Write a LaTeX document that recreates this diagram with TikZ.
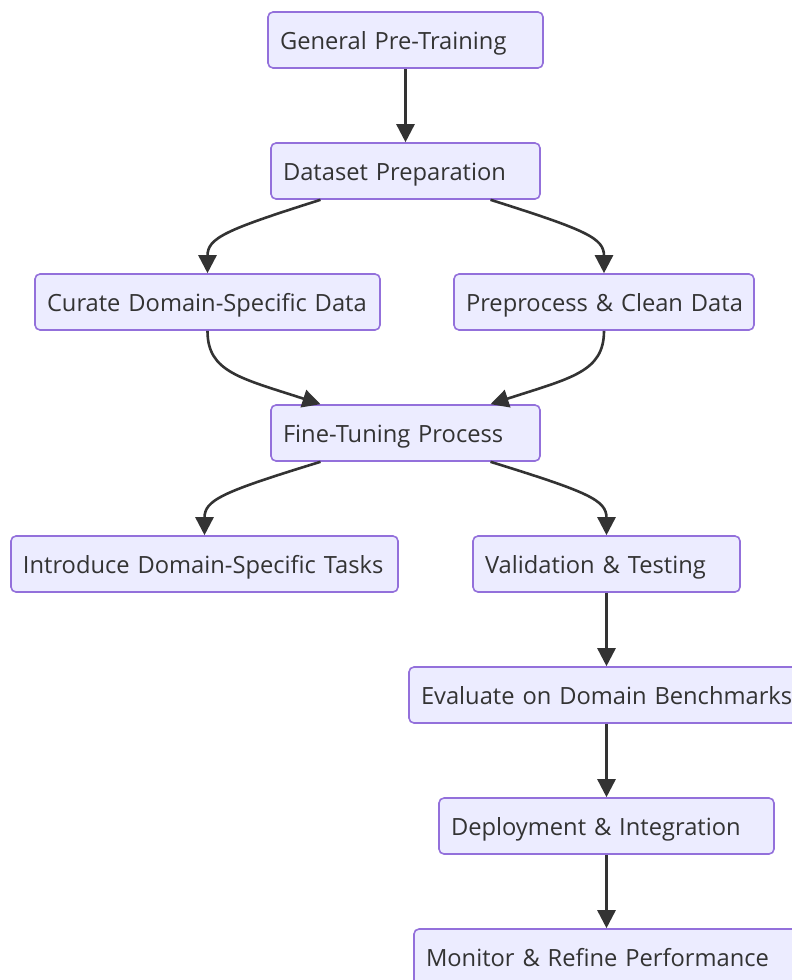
\documentclass[tikz,border=0pt]{standalone}
\usepackage{fontspec}
\setmainfont{Open Sans}
\usetikzlibrary{arrows.meta,calc}
\definecolor{boxfill}{HTML}{ECECFF}
\definecolor{boxline}{HTML}{9370DB}
\definecolor{ink}{HTML}{333333}
\tikzset{
  box/.style={draw=boxline, fill=boxfill, line width=1.6pt, rounded corners=5pt,
    minimum height=56pt, inner xsep=12pt, inner ysep=0pt, align=left,
    text height=24pt, text depth=6pt,
    text=ink, font=\fontsize{23.7}{28}\selectfont},
  conn/.style={draw=ink, line width=2.6pt, -{Triangle[length=18pt,width=18pt]}},
}
\begin{document}
\begin{tikzpicture}[x=1pt,y=-1pt]
\useasboundingbox (0,0) rectangle (792,980);
\clip (0,0) rectangle (792,980);
\node[box, text width=251pt] (gp) at (405.5,40) {\mbox{General Pre-Training}};
\node[box, text width=245pt] (dp) at (405.5,171) {\mbox{Dataset Preparation}};
\node[box, text width=321pt] (cd) at (207.5,302) {\mbox{Curate Domain-Specific Data}};
\node[box, text width=276pt] (pc) at (604,302) {\mbox{Preprocess \& Clean Data}};
\node[box, text width=245pt] (ft) at (405.5,433) {\mbox{Fine-Tuning Process}};
\node[box, text width=363pt] (it) at (204.5,564) {\mbox{Introduce Domain-Specific Tasks}};
\node[box, text width=243pt] (vt) at (606.5,564) {\mbox{Validation \& Testing}};
\node[box, text width=370pt] (eb) at (606,695) {\mbox{Evaluate on Domain Benchmarks}};
\node[box, text width=311pt] (di) at (606.5,826) {\mbox{Deployment \& Integration}};
\node[box, text width=360pt] (mr) at (606,957) {\mbox{Monitor \& Refine Performance}};

\draw[conn] (gp.south) -- (dp.north);
\draw[conn] ($(dp.south)+(-85,0)$) .. controls (225,230) and (207.5,238) .. (cd.north);
\draw[conn] ($(dp.south)+(85,0)$) .. controls (586,230) and (604,238) .. (pc.north);
\draw[conn] (cd.south) .. controls (207.5,372) and (240,378) .. ($(ft.north)+(-85,0)$);
\draw[conn] (pc.south) .. controls (604,372) and (571,378) .. ($(ft.north)+(85,0)$);
\draw[conn] ($(ft.south)+(-85,0)$) .. controls (222,492) and (204.5,500) .. (it.north);
\draw[conn] ($(ft.south)+(85,0)$) .. controls (588,492) and (606.5,500) .. (vt.north);
\draw[conn] (vt.south) -- (vt.south |- eb.north);
\draw[conn] (eb.south -| di.north) -- (di.north);
\draw[conn] (di.south) -- (di.south |- mr.north);
\end{tikzpicture}
\end{document}
